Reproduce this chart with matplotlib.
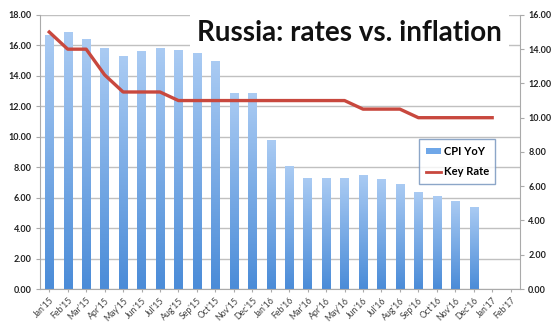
import numpy as np
import matplotlib
matplotlib.use("Agg")
import matplotlib.pyplot as plt
from matplotlib.colors import LinearSegmentedColormap
from matplotlib.patches import Patch
from matplotlib.lines import Line2D

months = ["Jan'15", "Feb'15", "Mar'15", "Apr'15", "May'15", "Jun'15", "Jul'15",
          "Aug'15", "Sep'15", "Oct'15", "Nov'15", "Dec'15", "Jan'16", "Feb'16",
          "Mar'16", "Apr'16", "May'16", "Jun'16", "Jul'16", "Aug'16", "Sep'16",
          "Oct'16", "Nov'16", "Dec'16", "Jan'17", "Feb'17"]
cpi_yoy = [16.7, 16.9, 16.4, 15.8, 15.3, 15.6, 15.8, 15.7, 15.7, 15.0, 12.9, 12.9,
           9.8, 8.1, 7.3, 7.3, 7.3, 7.5, 7.2, 6.9, 6.4, 6.1, 5.8, 5.4]
key_rate = [15.0, 14.0, 14.0, 12.5, 11.5, 11.5, 11.5, 11.0, 11.0, 11.0, 11.0, 11.0,
            11.0, 11.0, 11.0, 11.0, 11.0, 10.5, 10.5, 10.5, 10.0, 10.0, 10.0, 10.0,
            10.0]
left_ticks = [0, 2, 4, 6, 8, 10, 12, 14, 16, 18]
right_ticks = [0, 2, 4, 6, 8, 10, 12, 14, 16]

plt.rcParams["font.family"] = ["Lato", "DejaVu Sans"]

fig = plt.figure(figsize=(5.56, 3.24), dpi=100)
ax = fig.add_axes([0.072, 0.108, 0.863, 0.846])
ax2 = ax.twinx()

x = np.arange(len(months))
bar_w = 0.45
# light at the top of each bar, darker towards the baseline
grad = LinearSegmentedColormap.from_list("bar", ["#aacbf3", "#4b8cd8"])
ramp = np.linspace(0, 1, 100).reshape(-1, 1)
bars = ax.bar(x[:len(cpi_yoy)], cpi_yoy, width=bar_w, color="none", zorder=2)
for b in bars:
    x0, y0 = b.get_x(), b.get_y()
    im = ax.imshow(ramp, cmap=grad, origin="upper", aspect="auto", zorder=2,
                   extent=[x0, x0 + b.get_width(), y0, y0 + b.get_height()])
    im.set_clip_path(b)

ax.set_xlim(-0.5, len(months) - 0.5)
ax.set_ylim(0, 18)
ax.set_yticks(left_ticks)
ax.set_yticklabels([f"{v:.2f}" for v in left_ticks], fontsize=6.5,
                   fontweight="bold", color="#222222")
ax.yaxis.grid(True, color="#c0c0c0", linewidth=1.0, zorder=0)
ax.set_axisbelow(True)
ax.set_xticks(x)
ax.set_xticklabels(months, rotation=45, ha="right", rotation_mode="anchor",
                   fontsize=6.3, color="#444444")
ax.tick_params(axis="x", length=2, color="#aaaaaa", pad=3)
ax.tick_params(axis="y", length=3, color="#aaaaaa", pad=3)
for s in ["top", "right"]:
    ax.spines[s].set_visible(False)
for s in ["left", "bottom"]:
    ax.spines[s].set_color("#aaaaaa")

ax2.plot(x[:len(key_rate)], key_rate, color="#c8483e", linewidth=2.4,
         solid_joinstyle="round", zorder=3)
ax2.set_ylim(0, 16)
ax2.set_yticks(right_ticks)
ax2.set_yticklabels([f"{v:.2f}" for v in right_ticks], fontsize=6.5,
                    fontweight="bold", color="#222222")
ax2.tick_params(axis="y", length=3, color="#aaaaaa", pad=3)
for s in ["top", "left", "bottom"]:
    ax2.spines[s].set_visible(False)
ax2.spines["right"].set_color("#aaaaaa")

ax2.text(0.327, 0.98, "Russia: rates vs. inflation", transform=ax.transAxes,
         fontsize=20, fontweight="bold", color="#111111", va="top", ha="left",
         zorder=5, bbox=dict(facecolor="white", edgecolor="none", pad=5))

handles = [Patch(facecolor="#6fa7e8", edgecolor="none"),
           Line2D([0], [0], color="#c8483e", linewidth=2.0)]
leg = ax2.legend(handles, ["CPI YoY", "Key Rate"], loc="upper left",
                 bbox_to_anchor=(0.79, 0.546), borderaxespad=0, frameon=True,
                 fancybox=False, handlelength=1.4, handleheight=0.35,
                 handletextpad=0.2, borderpad=0.6, labelspacing=0.85,
                 prop={"weight": "bold", "size": 8})
leg.get_frame().set_edgecolor("#7090bb")
leg.get_frame().set_linewidth(1.0)

fig.savefig("out.png", dpi=100)
